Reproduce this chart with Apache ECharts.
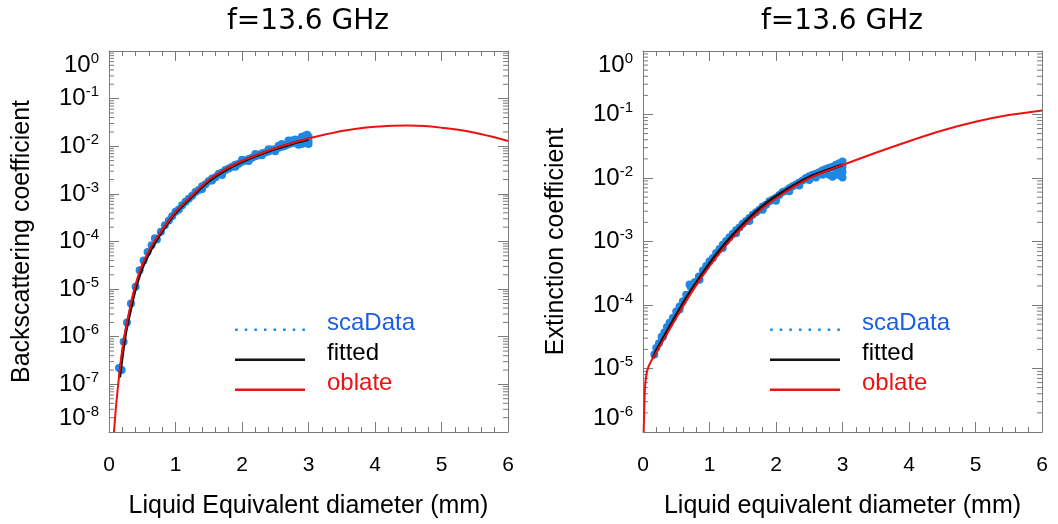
<!DOCTYPE html>
<html><head><meta charset="utf-8">
<script src="https://cdn.jsdelivr.net/npm/echarts@6/dist/echarts.min.js"></script>
<style>html,body{margin:0;padding:0;background:#fff}#c{width:1058px;height:524px}</style>
</head><body><div id="c"></div>
<script>
// ---------- texts ----------
const titleText = 'f=13.6 GHz';
const xNameLeft = 'Liquid Equivalent diameter (mm)';
const xNameRight = 'Liquid equivalent diameter (mm)';
const yNameLeft = 'Backscattering coefficient';
const yNameRight = 'Extinction coefficient';
const legendNames = ['scaData', 'fitted', 'oblate'];

// ---------- axes / ticks ----------
const xMin = 0, xMax = 6;
const xTickLabels = ['0', '1', '2', '3', '4', '5', '6'];
const leftDecades = [-8, -7, -6, -5, -4, -3, -2, -1, 0];   // y tick labels 10^k
const rightDecades = [-6, -5, -4, -3, -2, -1, 0];
const minorMultipliers = [2, 3, 4, 5, 6, 7, 8, 9];

// ---------- left panel: backscattering ----------
const backScaData = [
  [0.15, 2.2e-7], [0.19, 2.0e-7], [0.22, 7.9e-7], [0.27, 2.0e-6], [0.33, 5.0e-6],
  [0.40, 1.12e-5], [0.46, 2.5e-5], [0.52, 4.0e-5], [0.58, 6.0e-5], [0.64, 8.3e-5],
  [0.69, 1.17e-4], [0.72, 1.1e-4], [0.78, 1.6e-4], [0.84, 2.2e-4], [0.90, 2.75e-4],
  [0.95, 3.4e-4], [1.00, 4.2e-4], [1.05, 4.7e-4], [1.10, 5.75e-4], [1.15, 6.8e-4],
  [1.20, 7.9e-4], [1.25, 9.1e-4], [1.30, 1.1e-3], [1.35, 1.2e-3], [1.40, 1.45e-3],
  [1.45, 1.6e-3], [1.50, 1.86e-3], [1.55, 2.1e-3], [1.60, 2.24e-3], [1.65, 2.63e-3],
  [1.70, 2.8e-3], [1.75, 3.16e-3], [1.80, 3.4e-3], [1.85, 3.7e-3], [1.90, 4.1e-3],
  [1.95, 4.3e-3], [2.00, 4.7e-3], [2.05, 5.0e-3], [2.10, 5.4e-3], [2.15, 5.75e-3],
  [2.20, 6.2e-3], [2.25, 6.5e-3], [2.30, 7.1e-3], [2.35, 7.4e-3], [2.40, 7.8e-3],
  [2.45, 8.5e-3], [2.50, 8.7e-3], [2.55, 9.3e-3], [2.60, 9.8e-3], [2.65, 1.02e-2],
  [2.70, 1.1e-2], [2.75, 1.15e-2], [2.80, 1.2e-2], [2.85, 1.29e-2], [2.90, 1.32e-2],
  [2.95, 1.45e-2], [3.00, 1.58e-2],
  [2.70, 1.32e-2], [2.80, 1.38e-2], [2.85, 1.07e-2], [2.90, 1.12e-2], [2.95, 1.17e-2],
  [2.98, 1.74e-2], [3.00, 1.12e-2], [3.00, 1.26e-2], [2.90, 1.58e-2], [2.60, 1.12e-2],
  [2.50, 7.9e-3], [2.30, 6.5e-3], [2.10, 4.9e-3], [1.90, 3.7e-3], [1.70, 2.5e-3],
  [1.55, 1.9e-3], [1.40, 1.26e-3], [2.00, 5.2e-3], [2.20, 6.9e-3], [2.40, 8.7e-3],
  [2.55, 1.02e-2], [2.95, 1.66e-2], [2.75, 1.32e-2]
];
const backFitted = [
  [0.16, 1.4e-7], [0.20, 4.0e-7], [0.25, 1.2e-6], [0.32, 3.5e-6], [0.40, 1.05e-5],
  [0.50, 2.8e-5], [0.60, 5.6e-5], [0.70, 1.0e-4], [0.85, 2.1e-4], [1.00, 4.0e-4],
  [1.25, 8.9e-4], [1.50, 1.85e-3], [1.75, 3.15e-3], [2.00, 4.75e-3], [2.25, 6.6e-3],
  [2.50, 8.8e-3], [2.75, 1.13e-2], [3.00, 1.4e-2]
];
const backOblate = [
  [0.075, 1.0e-8], [0.10, 2.8e-8], [0.12, 5.6e-8], [0.14, 1.05e-7], [0.18, 3.3e-7],
  [0.23, 1.0e-6], [0.30, 3.2e-6], [0.38, 1.0e-5], [0.48, 2.8e-5], [0.58, 5.6e-5],
  [0.68, 1.0e-4], [0.85, 2.2e-4], [1.00, 4.2e-4], [1.25, 9.3e-4], [1.50, 1.95e-3],
  [1.75, 3.3e-3], [2.00, 4.9e-3], [2.25, 6.8e-3], [2.50, 9.1e-3], [2.75, 1.16e-2],
  [3.00, 1.45e-2], [3.25, 1.76e-2], [3.50, 2.09e-2], [3.75, 2.37e-2], [4.00, 2.57e-2],
  [4.25, 2.7e-2], [4.50, 2.74e-2], [4.75, 2.66e-2], [5.00, 2.45e-2], [5.25, 2.21e-2],
  [5.50, 1.93e-2], [5.75, 1.6e-2], [6.00, 1.29e-2]
];

// ---------- right panel: extinction ----------
const extScaData = [
  [0.17, 1.66e-5], [0.20, 2.1e-5], [0.24, 2.5e-5], [0.28, 3.16e-5], [0.32, 3.7e-5],
  [0.36, 4.5e-5], [0.40, 5.25e-5], [0.45, 6.3e-5], [0.50, 7.9e-5], [0.55, 9.5e-5],
  [0.60, 1.15e-4], [0.65, 1.45e-4], [0.70, 2.1e-4], [0.72, 1.9e-4], [0.78, 2.3e-4],
  [0.84, 2.8e-4], [0.90, 3.5e-4], [0.95, 4.1e-4], [1.00, 4.9e-4], [1.05, 5.5e-4],
  [1.10, 6.6e-4], [1.15, 7.6e-4], [1.20, 8.9e-4], [1.25, 1.02e-3], [1.30, 1.17e-3],
  [1.35, 1.32e-3], [1.40, 1.51e-3], [1.45, 1.66e-3], [1.50, 1.9e-3], [1.55, 2.1e-3],
  [1.60, 2.34e-3], [1.65, 2.63e-3], [1.70, 2.9e-3], [1.75, 3.16e-3], [1.80, 3.55e-3],
  [1.85, 3.8e-3], [1.90, 4.3e-3], [1.95, 4.6e-3], [2.00, 4.9e-3], [2.05, 5.4e-3],
  [2.10, 6.0e-3], [2.15, 6.3e-3], [2.20, 6.9e-3], [2.25, 7.4e-3], [2.30, 7.9e-3],
  [2.35, 8.5e-3], [2.40, 9.1e-3], [2.45, 1.0e-2], [2.50, 1.07e-2], [2.55, 1.12e-2],
  [2.60, 1.17e-2], [2.65, 1.23e-2], [2.70, 1.32e-2], [2.75, 1.38e-2], [2.80, 1.45e-2],
  [2.85, 1.51e-2], [2.90, 1.62e-2], [2.95, 1.7e-2], [3.00, 1.82e-2],
  [2.80, 1.12e-2], [2.85, 1.05e-2], [2.90, 1.17e-2], [2.95, 1.1e-2], [3.00, 1.02e-2],
  [3.00, 1.26e-2], [3.00, 1.51e-2], [2.90, 1.38e-2], [2.70, 1.12e-2], [2.60, 1.02e-2],
  [2.50, 9.3e-3], [2.35, 7.6e-3], [2.20, 6.2e-3], [2.00, 4.4e-3], [1.80, 3.16e-3],
  [1.60, 2.1e-3], [1.40, 1.35e-3], [1.20, 7.9e-4], [0.85, 2.5e-4], [0.55, 8.5e-5],
  [0.30, 3.16e-5]
];
const extFitted = [
  [0.15, 1.45e-5], [0.20, 1.9e-5], [0.30, 2.95e-5], [0.45, 5.6e-5], [0.60, 1.05e-4],
  [0.75, 1.86e-4], [0.91, 3.3e-4], [1.10, 6.2e-4], [1.28, 1.05e-3], [1.55, 2.1e-3],
  [1.81, 3.7e-3], [2.10, 6.0e-3], [2.47, 1.0e-2], [2.75, 1.3e-2], [3.00, 1.6e-2]
];
const extOblate = [
  [0.01, 1.0e-6], [0.02, 2.5e-6], [0.03, 5.0e-6], [0.05, 7.9e-6], [0.08, 1.05e-5],
  [0.13, 1.35e-5], [0.20, 1.78e-5], [0.30, 2.7e-5], [0.45, 5.1e-5], [0.60, 9.5e-5],
  [0.75, 1.7e-4], [0.91, 3.0e-4], [1.10, 5.6e-4], [1.28, 9.5e-4], [1.55, 1.9e-3],
  [1.81, 3.4e-3], [2.10, 5.6e-3], [2.47, 9.5e-3], [2.75, 1.27e-2], [3.00, 1.6e-2],
  [3.50, 2.5e-2], [4.00, 3.8e-2], [4.50, 5.6e-2], [5.00, 7.7e-2], [5.50, 9.8e-2],
  [6.00, 1.16e-1]
];

// ---------- styling ----------
const FONT = '"Liberation Sans", Arial, Helvetica, sans-serif';
const TITLE_FONT = '"DejaVu Sans", "Liberation Sans", sans-serif';
const AXIS_GRAY = '#7a7a7a';
const BLUE_PTS = '#1e88e5';
const BLUE_TXT = '#1a5fe3';
const RED = '#ee1111';
const BLACK = '#111111';

const grids = [
  { left: 109, top: 51, width: 399, height: 384 },
  { left: 643, top: 51, width: 399, height: 384 }
];

function xAxisPair(gridIndex, name) {
  const common = {
    type: 'value', gridIndex, min: xMin, max: xMax, interval: 1,
    axisLine: { show: true, onZero: false, lineStyle: { color: AXIS_GRAY, width: 1 } },
    axisTick: { show: true, inside: true, length: 10, lineStyle: { color: AXIS_GRAY } },
    minorTick: { show: true, splitNumber: 5, length: 5, lineStyle: { color: AXIS_GRAY } },
    splitLine: { show: false }
  };
  return [
    Object.assign({}, common, {
      position: 'bottom',
      axisLabel: { show: true, margin: 23, fontSize: 21, color: '#000', fontFamily: FONT,
        formatter: v => xTickLabels[Math.round(v)] },
      name, nameLocation: 'middle', nameGap: 62,
      nameTextStyle: { fontSize: 25, color: '#000', fontFamily: FONT }
    }),
    Object.assign({}, common, { position: 'top', axisLabel: { show: false } })
  ];
}

function yAxisPair(gridIndex, decades, name) {
  const lo = Math.pow(10, decades[0]);
  const hi = Math.pow(10, decades[decades.length - 1]);
  const common = {
    type: 'log', logBase: 10, gridIndex, min: lo, max: hi, splitNumber: decades.length - 1,
    axisLine: { show: true, onZero: false, lineStyle: { color: AXIS_GRAY, width: 1 } },
    axisTick: { show: true, inside: true, length: 10, lineStyle: { color: AXIS_GRAY } },
    splitLine: { show: false }
  };
  return [
    Object.assign({}, common, {
      position: 'left',
      axisLabel: {
        show: true, margin: 10, color: '#000', fontFamily: FONT,
        verticalAlignMinLabel: 'bottom', verticalAlignMaxLabel: 'top',
        formatter: v => {
          const e = Math.round(Math.log10(v));
          return decades.indexOf(e) >= 0 ? '{b|10}{s|' + e + '}' : '';
        },
        rich: {
          b: { fontSize: 24, lineHeight: 28, fontFamily: FONT, color: '#000' },
          s: { fontSize: 15, verticalAlign: 'top', fontFamily: FONT, color: '#000' }
        }
      },
      name, nameLocation: 'middle', nameGap: 74,
      nameTextStyle: { fontSize: 25, color: '#000', fontFamily: FONT }
    }),
    Object.assign({}, common, { position: 'right', axisLabel: { show: false } })
  ];
}

function minorTickData(decades) {
  const out = [];
  for (let i = 0; i < decades.length - 1; i++) {
    for (const m of minorMultipliers) out.push([xMin, m * Math.pow(10, decades[i])]);
  }
  return out;
}

function minorTickSeries(axisIdx, decades) {
  return {
    type: 'custom', xAxisIndex: axisIdx, yAxisIndex: axisIdx, silent: true, clip: false, z: 1,
    encode: { x: 0, y: 1 },
    data: minorTickData(decades),
    renderItem: (params, api) => {
      const v = api.value(1);
      const p1 = api.coord([xMin, v]);
      const p2 = api.coord([xMax, v]);
      const st = { stroke: AXIS_GRAY, lineWidth: 1 };
      return { type: 'group', children: [
        { type: 'line', shape: { x1: p1[0], y1: p1[1], x2: p1[0] + 5, y2: p1[1] }, style: st },
        { type: 'line', shape: { x1: p2[0] - 5, y1: p2[1], x2: p2[0], y2: p2[1] }, style: st }
      ] };
    }
  };
}

function panelSeries(axisIdx, sca, fit, obl) {
  return [
    { name: legendNames[0], type: 'scatter', xAxisIndex: axisIdx, yAxisIndex: axisIdx,
      data: sca, symbol: 'circle', symbolSize: 8, z: 2,
      itemStyle: { color: BLUE_PTS, opacity: 1 } },
    { name: legendNames[1], type: 'line', xAxisIndex: axisIdx, yAxisIndex: axisIdx,
      data: fit, showSymbol: false, symbol: 'none', smooth: 0.3, z: 3,
      itemStyle: { color: BLACK }, lineStyle: { color: BLACK, width: 3 } },
    { name: legendNames[2], type: 'line', xAxisIndex: axisIdx, yAxisIndex: axisIdx,
      data: obl, showSymbol: false, symbol: 'none', smooth: 0.3, z: 4,
      itemStyle: { color: RED }, lineStyle: { color: RED, width: 2 } }
  ];
}

// legend icons (a near-invisible corner dot keeps the icon box 70x16 so the mark sits low)
const iconCorner = 'M0,0h0.01v0.01h-0.01z ';
let dots = [];
for (let i = 0; i < 8; i++) dots.push('M' + (i * 9.6) + ',13.5h2.5v2.5h-2.5z');
const dotIcon = 'path://' + iconCorner + dots.join(' ');
const lineIcon = 'path://' + iconCorner + 'M0,13.4h70v2.6h-70z';

function mkLegend(left) {
  return {
    left, top: 310, orient: 'vertical', padding: 0,
    itemWidth: 70, itemHeight: 16, itemGap: 4, selectedMode: false,
    textStyle: { fontFamily: FONT, fontSize: 24, lineHeight: 26, padding: [0, 0, 0, 17] },
    data: [
      { name: legendNames[0], icon: dotIcon, textStyle: { color: BLUE_TXT } },
      { name: legendNames[1], icon: lineIcon, textStyle: { color: '#000' } },
      { name: legendNames[2], icon: lineIcon, textStyle: { color: RED } }
    ]
  };
}

const xL = xAxisPair(0, xNameLeft), xR = xAxisPair(1, xNameRight);
const yL = yAxisPair(0, leftDecades, yNameLeft), yR = yAxisPair(1, rightDecades, yNameRight);

const option = {
  animation: false,
  backgroundColor: '#fff',
  title: [
    { text: titleText, left: 308, top: 8, textAlign: 'center', padding: 0,
      textStyle: { fontSize: 28, fontWeight: 'normal', color: '#000', fontFamily: TITLE_FONT } },
    { text: titleText, left: 842, top: 8, textAlign: 'center', padding: 0,
      textStyle: { fontSize: 28, fontWeight: 'normal', color: '#000', fontFamily: TITLE_FONT } }
  ],
  legend: [mkLegend(235), mkLegend(770)],
  grid: grids,
  xAxis: [xL[0], xL[1], xR[0], xR[1]],
  yAxis: [yL[0], yL[1], yR[0], yR[1]],
  series: [
    ...panelSeries(0, backScaData, backFitted, backOblate),
    minorTickSeries(0, leftDecades),
    ...panelSeries(2, extScaData, extFitted, extOblate),
    minorTickSeries(2, rightDecades)
  ]
};

const chart = echarts.init(document.getElementById('c'), null, { renderer: 'canvas' });
chart.setOption(option);
</script>
</body></html>
